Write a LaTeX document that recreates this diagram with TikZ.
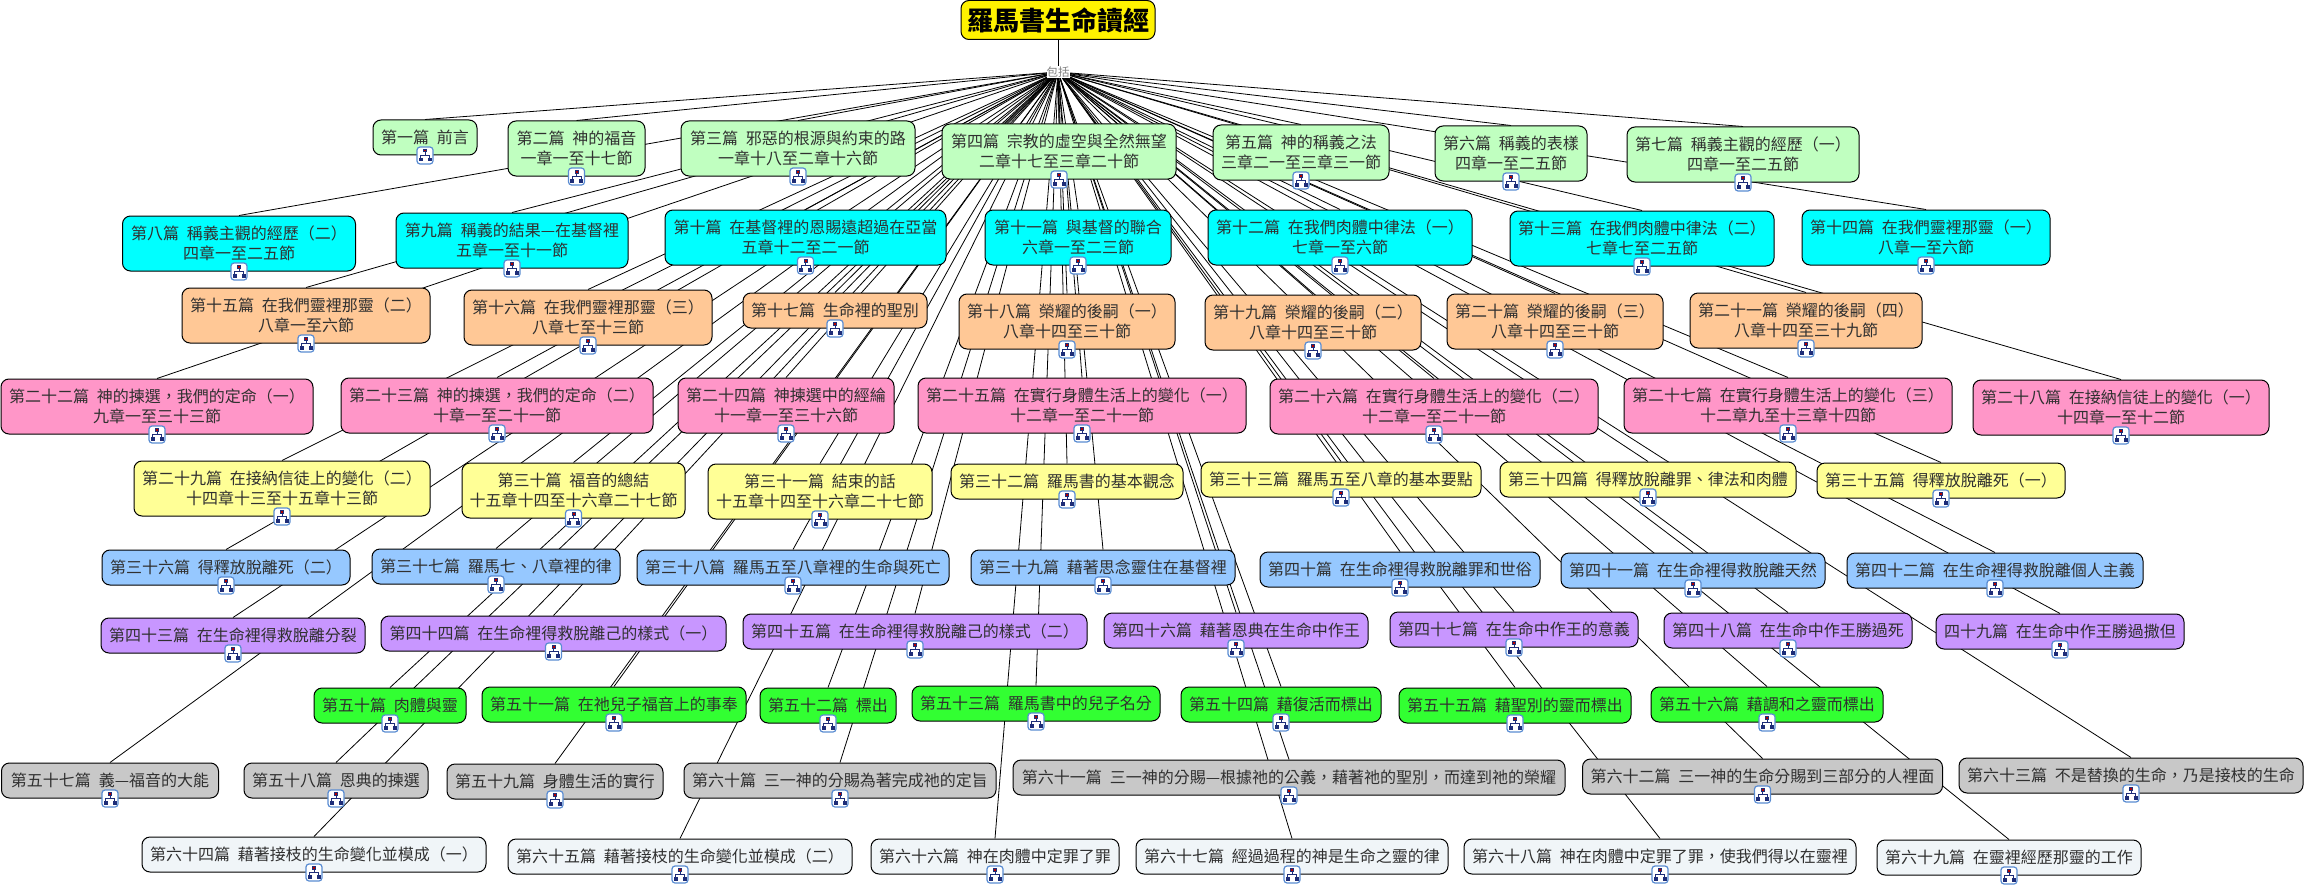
\documentclass[tikz,border=0pt]{standalone}
\usepackage{fontspec}
\setmainfont[WordSpace=2.2]{Noto Sans CJK TC}
\usetikzlibrary{backgrounds}
\definecolor{lvlgreen}{HTML}{C0FFC0}
\definecolor{lvlcyan}{HTML}{00FFFF}
\definecolor{lvlorange}{HTML}{FFC896}
\definecolor{lvlpink}{HTML}{FF96C8}
\definecolor{lvlyellow}{HTML}{FFFF96}
\definecolor{lvlblue}{HTML}{96C8FF}
\definecolor{lvlpurple}{HTML}{C896FF}
\definecolor{lvllime}{HTML}{32FF32}
\definecolor{lvlgray}{HTML}{C8C8C8}
\definecolor{lvlpale}{HTML}{F0F5F8}
\definecolor{iconblue}{HTML}{5A8CD2}
\definecolor{iconnavy}{HTML}{1E2D78}
\definecolor{txtgray}{HTML}{303030}
\tikzset{
  treeicon/.pic={
    \draw[iconblue, fill=white, line width=1.2pt, rounded corners=3pt] (-8,-8.5) rectangle (8,8.5);
    \draw[iconnavy, line width=0.7pt] (0,-3) -- (0,0) (-4.5,3) -- (-4.5,0) -- (4.5,0) -- (4.5,3);
    \fill[iconnavy] (-2,-6.5) rectangle (2,-3);
    \fill[iconnavy] (-6.5,2.5) rectangle (-2.5,6);
    \fill[iconnavy] (2.5,2.5) rectangle (6.5,6);
    \fill[red!70!black] (-1,-5.5) rectangle (1,-4);
  }
}
\begin{document}
\begin{tikzpicture}[
  x=1pt, y=-1pt,
  box/.style={draw=black, line width=1pt, rounded corners=8pt, align=center, inner sep=0pt, text=txtgray,
    minimum height=35pt, font=\fontsize{16}{20}\selectfont,
    append after command={pic at (\tikzlastnode.south) {treeicon}}},
  tall/.style={minimum height=55pt},
  greenbox/.style={box, fill=lvlgreen},
  cyanbox/.style={box, fill=lvlcyan},
  orangebox/.style={box, fill=lvlorange},
  pinkbox/.style={box, fill=lvlpink},
  yellowbox/.style={box, fill=lvlyellow},
  bluebox/.style={box, fill=lvlblue},
  purplebox/.style={box, fill=lvlpurple},
  limebox/.style={box, fill=lvllime},
  graybox/.style={box, fill=lvlgray},
  palebox/.style={box, fill=lvlpale},
  link/.style={draw=black, line width=0.8pt}
]
\useasboundingbox (0,0) rectangle (2305,888);
\node[draw=black, line width=1pt, rounded corners=8pt, fill=yellow, minimum width=194pt, minimum height=39pt, inner sep=0pt, font=\fontsize{26}{30}\selectfont\bfseries] (root) at (1058,20) {羅馬書生命讀經};
\node[fill=white, text=gray, inner sep=0pt, minimum width=23pt, minimum height=12pt, font=\fontsize{11.5}{12}\selectfont] (hub) at (1058,72) {包括};

\node[greenbox, minimum width=104pt] (msg1) at (425,137.5) {第一篇 前言};
\node[greenbox, tall, minimum width=137pt] (msg2) at (576.5,148.5) {第二篇 神的福音\\一章一至十七節};
\node[greenbox, tall, minimum width=234pt] (msg3) at (798,148.5) {第三篇 邪惡的根源與約束的路\\一章十八至二章十六節};
\node[greenbox, tall, minimum width=234pt] (msg4) at (1059,151.5) {第四篇 宗教的虛空與全然無望\\二章十七至三章二十節};
\node[greenbox, tall, minimum width=176pt] (msg5) at (1301,152.5) {第五篇 神的稱義之法\\三章二一至三章三一節};
\node[greenbox, tall, minimum width=152pt] (msg6) at (1511,153.5) {第六篇 稱義的表樣\\四章一至二五節};
\node[greenbox, tall, minimum width=232pt] (msg7) at (1743,154.5) {第七篇 稱義主觀的經歷（一）\\四章一至二五節};

\node[cyanbox, tall, minimum width=233pt] (msg8) at (239,243.5) {第八篇 稱義主觀的經歷（二）\\四章一至二五節};
\node[cyanbox, tall, minimum width=232pt] (msg9) at (512,240.5) {第九篇 稱義的結果—在基督裡\\五章一至十一節};
\node[cyanbox, tall, minimum width=281pt] (msg10) at (805.5,237.5) {第十篇 在基督裡的恩賜遠超過在亞當\\五章十二至二一節};
\node[cyanbox, tall, minimum width=186pt] (msg11) at (1078,237.5) {第十一篇 與基督的聯合\\六章一至二三節};
\node[cyanbox, tall, minimum width=264pt] (msg12) at (1340,237.5) {第十二篇 在我們肉體中律法（一）\\七章一至六節};
\node[cyanbox, tall, minimum width=264pt] (msg13) at (1642,238.5) {第十三篇 在我們肉體中律法（二）\\七章七至二五節};
\node[cyanbox, tall, minimum width=248pt] (msg14) at (1926,237.5) {第十四篇 在我們靈裡那靈（一）\\八章一至六節};

\node[orangebox, tall, minimum width=248pt] (msg15) at (306,315.5) {第十五篇 在我們靈裡那靈（二）\\八章一至六節};
\node[orangebox, tall, minimum width=248pt] (msg16) at (588,317.5) {第十六篇 在我們靈裡那靈（三）\\八章七至十三節};
\node[orangebox, minimum width=184pt] (msg17) at (835,310.5) {第十七篇 生命裡的聖別};
\node[orangebox, tall, minimum width=216pt] (msg18) at (1067,321.5) {第十八篇 榮耀的後嗣（一）\\八章十四至三十節};
\node[orangebox, tall, minimum width=216pt] (msg19) at (1313,322.5) {第十九篇 榮耀的後嗣（二）\\八章十四至三十節};
\node[orangebox, tall, minimum width=216pt] (msg20) at (1555,321.5) {第二十篇 榮耀的後嗣（三）\\八章十四至三十節};
\node[orangebox, tall, minimum width=232pt] (msg21) at (1806,320.5) {第二十一篇 榮耀的後嗣（四）\\八章十四至三十九節};

\node[pinkbox, tall, minimum width=312pt] (msg22) at (157,406.5) {第二十二篇 神的揀選，我們的定命（一）\\九章一至三十三節};
\node[pinkbox, tall, minimum width=312pt] (msg23) at (497,405.5) {第二十三篇 神的揀選，我們的定命（二）\\十章一至二十一節};
\node[pinkbox, tall, minimum width=216pt] (msg24) at (786,405.5) {第二十四篇 神揀選中的經綸\\十一章一至三十六節};
\node[pinkbox, tall, minimum width=328pt] (msg25) at (1082,405.5) {第二十五篇 在實行身體生活上的變化（一）\\十二章一至二十一節};
\node[pinkbox, tall, minimum width=328pt] (msg26) at (1434,406.5) {第二十六篇 在實行身體生活上的變化（二）\\十二章一至二十一節};
\node[pinkbox, tall, minimum width=328pt] (msg27) at (1788,405.5) {第二十七篇 在實行身體生活上的變化（三）\\十二章九至十三章十四節};
\node[pinkbox, tall, minimum width=296pt] (msg28) at (2121,407.5) {第二十八篇 在接納信徒上的變化（一）\\十四章一至十二節};

\node[yellowbox, tall, minimum width=296pt] (msg29) at (282,488.5) {第二十九篇 在接納信徒上的變化（二）\\十四章十三至十五章十三節};
\node[yellowbox, tall, minimum width=223pt] (msg30) at (573.5,490.5) {第三十篇 福音的總結\\十五章十四至十六章二十七節};
\node[yellowbox, tall, minimum width=224pt] (msg31) at (820,491.5) {第三十一篇 結束的話\\十五章十四至十六章二十七節};
\node[yellowbox, minimum width=232pt] (msg32) at (1067,481.5) {第三十二篇 羅馬書的基本觀念};
\node[yellowbox, minimum width=280pt] (msg33) at (1341,479.5) {第三十三篇 羅馬五至八章的基本要點};
\node[yellowbox, minimum width=296pt] (msg34) at (1648,479.5) {第三十四篇 得釋放脫離罪、律法和肉體};
\node[yellowbox, minimum width=248pt] (msg35) at (1941,480.5) {第三十五篇 得釋放脫離死（一）};

\node[bluebox, minimum width=248pt] (msg36) at (226,567.5) {第三十六篇 得釋放脫離死（二）};
\node[bluebox, minimum width=248pt] (msg37) at (496,566.5) {第三十七篇 羅馬七、八章裡的律};
\node[bluebox, minimum width=312pt] (msg38) at (793,567.5) {第三十八篇 羅馬五至八章裡的生命與死亡};
\node[bluebox, minimum width=264pt] (msg39) at (1103,567.5) {第三十九篇 藉著思念靈住在基督裡};
\node[bluebox, minimum width=280pt] (msg40) at (1400,569.5) {第四十篇 在生命裡得救脫離罪和世俗};
\node[bluebox, minimum width=264pt] (msg41) at (1693,570.5) {第四十一篇 在生命裡得救脫離天然};
\node[bluebox, minimum width=296pt] (msg42) at (1995,570.5) {第四十二篇 在生命裡得救脫離個人主義};

\node[purplebox, minimum width=264pt] (msg43) at (233,635.5) {第四十三篇 在生命裡得救脫離分裂};
\node[purplebox, minimum width=345pt] (msg44) at (553.5,633.5) {第四十四篇 在生命裡得救脫離己的樣式（一）};
\node[purplebox, minimum width=344pt] (msg45) at (915,631.5) {第四十五篇 在生命裡得救脫離己的樣式（二）};
\node[purplebox, minimum width=264pt] (msg46) at (1236,630.5) {第四十六篇 藉著恩典在生命中作王};
\node[purplebox, minimum width=248pt] (msg47) at (1514,629.5) {第四十七篇 在生命中作王的意義};
\node[purplebox, minimum width=248pt] (msg48) at (1788,630.5) {第四十八篇 在生命中作王勝過死};
\node[purplebox, minimum width=248pt] (msg49) at (2060,631.5) {四十九篇 在生命中作王勝過撒但};

\node[limebox, minimum width=152pt] (msg50) at (390,705.5) {第五十篇 肉體與靈};
\node[limebox, minimum width=264pt] (msg51) at (614,704.5) {第五十一篇 在祂兒子福音上的事奉};
\node[limebox, minimum width=136pt] (msg52) at (828,705.5) {第五十二篇 標出};
\node[limebox, minimum width=248pt] (msg53) at (1036,703.5) {第五十三篇 羅馬書中的兒子名分};
\node[limebox, minimum width=200pt] (msg54) at (1281,704.5) {第五十四篇 藉復活而標出};
\node[limebox, minimum width=232pt] (msg55) at (1515,705.5) {第五十五篇 藉聖別的靈而標出};
\node[limebox, minimum width=232pt] (msg56) at (1767,704.5) {第五十六篇 藉調和之靈而標出};

\node[graybox, minimum width=217pt] (msg57) at (110,780.5) {第五十七篇 義—福音的大能};
\node[graybox, minimum width=184pt] (msg58) at (336,780.5) {第五十八篇 恩典的揀選};
\node[graybox, minimum width=216pt] (msg59) at (555,781.5) {第五十九篇 身體生活的實行};
\node[graybox, minimum width=312pt] (msg60) at (840,780.5) {第六十篇 三一神的分賜為著完成祂的定旨};
\node[graybox, minimum width=552pt] (msg61) at (1289,777.5) {第六十一篇 三一神的分賜—根據祂的公義，藉著祂的聖別，而達到祂的榮耀};
\node[graybox, minimum width=360pt] (msg62) at (1762.5,776.5) {第六十二篇 三一神的生命分賜到三部分的人裡面};
\node[graybox, minimum width=344pt] (msg63) at (2131,775.5) {第六十三篇 不是替換的生命，乃是接枝的生命};

\node[palebox, minimum width=344pt] (msg64) at (314,854.5) {第六十四篇 藉著接枝的生命變化並模成（一）};
\node[palebox, minimum width=344pt] (msg65) at (680,856.5) {第六十五篇 藉著接枝的生命變化並模成（二）};
\node[palebox, minimum width=248pt] (msg66) at (995,856.5) {第六十六篇 神在肉體中定罪了罪};
\node[palebox, minimum width=312pt] (msg67) at (1292,856.5) {第六十七篇 經過過程的神是生命之靈的律};
\node[palebox, minimum width=392pt] (msg68) at (1660,856.5) {第六十八篇 神在肉體中定罪了罪，使我們得以在靈裡};
\node[palebox, minimum width=264pt] (msg69) at (2009,857.5) {第六十九篇 在靈裡經歷那靈的工作};

\begin{scope}[on background layer]
\draw[link] (root) -- (hub);
\draw[link] (hub.center) -- (msg1.north);
\draw[link] (hub.center) -- (msg2.north);
\draw[link] (hub.center) -- (msg3.north);
\draw[link] (hub.center) -- (msg4.north);
\draw[link] (hub.center) -- (msg5.north);
\draw[link] (hub.center) -- (msg6.north);
\draw[link] (hub.center) -- (msg7.north);
\draw[link] (hub.center) -- (msg8.north);
\draw[link] (hub.center) -- (msg9.north);
\draw[link] (hub.center) -- (msg10.north);
\draw[link] (hub.center) -- (msg11.north);
\draw[link] (hub.center) -- (msg12.north);
\draw[link] (hub.center) -- (msg13.north);
\draw[link] (hub.center) -- (msg14.north);
\draw[link] (hub.center) -- (msg15.north);
\draw[link] (hub.center) -- (msg16.north);
\draw[link] (hub.center) -- (msg17.north);
\draw[link] (hub.center) -- (msg18.north);
\draw[link] (hub.center) -- (msg19.north);
\draw[link] (hub.center) -- (msg20.north);
\draw[link] (hub.center) -- (msg21.north);
\draw[link] (hub.center) -- (msg22.north);
\draw[link] (hub.center) -- (msg23.north);
\draw[link] (hub.center) -- (msg24.north);
\draw[link] (hub.center) -- (msg25.north);
\draw[link] (hub.center) -- (msg26.north);
\draw[link] (hub.center) -- (msg27.north);
\draw[link] (hub.center) -- (msg28.north);
\draw[link] (hub.center) -- (msg29.north);
\draw[link] (hub.center) -- (msg30.north);
\draw[link] (hub.center) -- (msg31.north);
\draw[link] (hub.center) -- (msg32.north);
\draw[link] (hub.center) -- (msg33.north);
\draw[link] (hub.center) -- (msg34.north);
\draw[link] (hub.center) -- (msg35.north);
\draw[link] (hub.center) -- (msg36.north);
\draw[link] (hub.center) -- (msg37.north);
\draw[link] (hub.center) -- (msg38.north);
\draw[link] (hub.center) -- (msg39.north);
\draw[link] (hub.center) -- (msg40.north);
\draw[link] (hub.center) -- (msg41.north);
\draw[link] (hub.center) -- (msg42.north);
\draw[link] (hub.center) -- (msg43.north);
\draw[link] (hub.center) -- (msg44.north);
\draw[link] (hub.center) -- (msg45.north);
\draw[link] (hub.center) -- (msg46.north);
\draw[link] (hub.center) -- (msg47.north);
\draw[link] (hub.center) -- (msg48.north);
\draw[link] (hub.center) -- (msg49.north);
\draw[link] (hub.center) -- (msg50.north);
\draw[link] (hub.center) -- (msg51.north);
\draw[link] (hub.center) -- (msg52.north);
\draw[link] (hub.center) -- (msg53.north);
\draw[link] (hub.center) -- (msg54.north);
\draw[link] (hub.center) -- (msg55.north);
\draw[link] (hub.center) -- (msg56.north);
\draw[link] (hub.center) -- (msg57.north);
\draw[link] (hub.center) -- (msg58.north);
\draw[link] (hub.center) -- (msg59.north);
\draw[link] (hub.center) -- (msg60.north);
\draw[link] (hub.center) -- (msg61.north);
\draw[link] (hub.center) -- (msg62.north);
\draw[link] (hub.center) -- (msg63.north);
\draw[link] (hub.center) -- (msg64.north);
\draw[link] (hub.center) -- (msg65.north);
\draw[link] (hub.center) -- (msg66.north);
\draw[link] (hub.center) -- (msg67.north);
\draw[link] (hub.center) -- (msg68.north);
\draw[link] (hub.center) -- (msg69.north);
\end{scope}
\end{tikzpicture}
\end{document}
